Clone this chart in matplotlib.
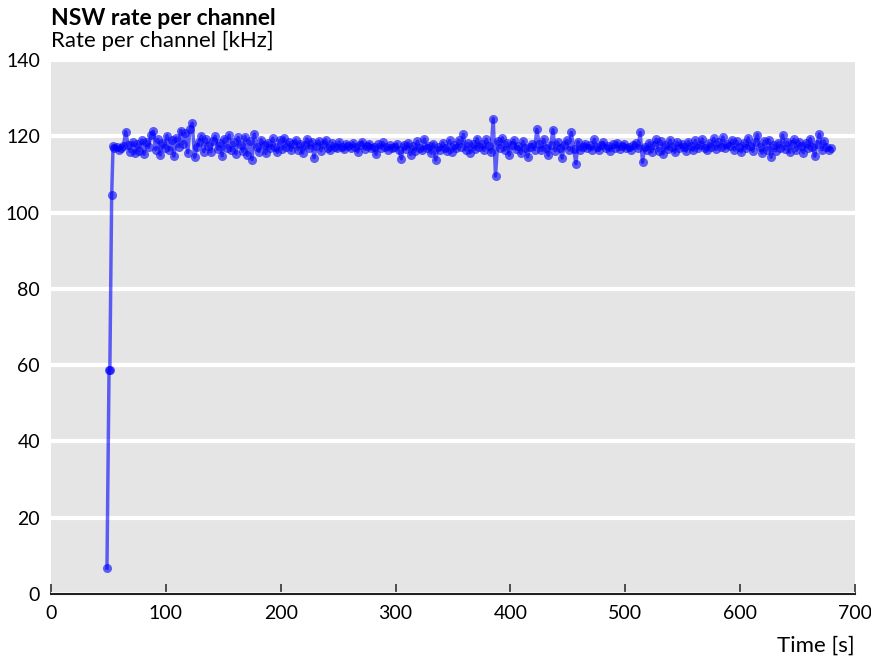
import matplotlib.pyplot as plt

# ramp-up at start of run
ramp_time = [48.7, 50.5, 51.2, 52.8, 54.0]
ramp_rate = [6.8, 58.6, 58.8, 104.6, 117.4]

# steady part, one reading every 2 s from t = 55 s
t_start = 55
t_step = 2
rate = [
    116.8, 117.2, 116.4, 116.9, 117.5, 121.2, 117.8, 116.0, 118.4, 115.6,
    117.9, 116.2, 119.0, 115.3, 118.6, 117.1, 120.4, 121.3, 116.5, 119.2,
    115.1, 118.3, 117.0, 120.2, 116.4, 118.9, 114.8, 119.6, 117.3, 121.5,
    118.1, 120.8, 115.7, 121.8, 123.4, 114.5, 117.2, 118.6, 120.1, 116.0,
    119.3, 117.4, 115.9, 118.8, 120.0, 116.6, 118.2, 114.9, 119.4, 117.0,
    120.3, 116.3, 118.5, 115.4, 119.7, 117.6, 116.1, 119.9, 115.0, 118.7,
    113.9, 120.6, 117.3, 116.0, 119.1, 117.8, 115.5, 118.3, 116.8, 119.5,
    117.1, 115.8, 118.9, 116.7, 119.6, 117.2, 118.4, 116.3, 117.9, 119.0,
    116.5, 118.1, 115.6, 117.7, 119.3, 116.9, 118.6, 114.4, 117.5, 118.8,
    116.2, 117.9, 119.1, 117.0, 116.4, 118.2, 117.3, 116.8, 118.5, 117.1,
    116.6, 118.0, 117.4, 116.9, 118.3, 117.2, 115.9, 117.8, 118.6, 116.7,
    117.5, 118.1, 116.8, 117.3, 115.3, 117.9, 116.9, 118.4, 117.1, 116.5,
    117.6, 116.9, 117.2, 118.0, 116.3, 114.1, 117.8, 116.6, 118.2, 115.2,
    117.4, 116.1, 118.7, 117.0, 116.4, 119.3, 116.8, 117.5, 115.6, 118.1,
    113.8, 117.2, 116.5, 118.3, 117.0, 116.2, 118.9, 115.9, 117.6, 116.8,
    119.0, 117.3, 120.5, 116.4, 118.2, 115.7, 117.9, 116.6, 119.4, 117.1,
    118.0, 116.3, 119.2, 117.5, 115.8, 124.6, 109.6, 118.8, 117.0, 119.6,
    116.4, 118.3, 115.1, 117.8, 119.0, 116.6, 117.4, 115.5, 118.7, 116.9,
    114.6, 117.2, 118.0, 116.5, 121.8, 118.1, 116.3, 119.2, 117.0, 115.0,
    117.6, 121.7, 116.2, 118.5, 116.9, 114.3, 117.8, 118.9, 116.4, 121.0,
    116.7, 112.8, 118.6, 116.4, 117.3, 118.1, 116.9, 117.6, 116.5, 119.2,
    117.1, 116.3, 117.8, 118.4, 116.8, 117.4, 116.2, 117.9, 117.0, 118.3,
    116.6, 117.5, 118.0, 116.9, 117.3, 116.4, 117.7, 118.2, 116.8, 121.0,
    113.2, 117.3, 116.5, 118.3, 115.9, 117.6, 119.2, 116.2, 118.7, 115.4,
    117.8, 116.6, 119.0, 117.3, 115.8, 118.5, 116.9, 118.0, 117.2, 116.1,
    118.6, 117.4, 116.3, 118.9, 116.8, 117.6, 119.3, 117.0, 116.5, 118.2,
    117.1, 119.5, 116.6, 118.4, 117.2, 119.8, 116.9, 118.1, 117.5, 119.0,
    116.4, 118.7, 117.3, 115.9, 118.2, 116.8, 119.6, 117.4, 116.1, 118.5,
    120.4, 117.2, 115.6, 118.8, 116.4, 119.1, 114.5, 117.7, 116.2, 118.3,
    117.0, 120.3, 116.6, 118.5, 115.8, 117.9, 119.2, 116.3, 118.6, 117.4,
    115.7, 118.2, 116.9, 119.4, 117.1, 114.8, 118.0, 120.6, 116.5, 118.8,
    117.2, 116.4, 116.9,
]

time = ramp_time + [t_start + t_step * i for i in range(len(rate))]
values = ramp_rate + rate

plt.rcParams['font.family'] = ['Lato', 'DejaVu Sans']

fig = plt.figure(figsize=(8.71, 6.58), dpi=100)
ax = fig.add_axes([0.0586, 0.0973, 0.9230, 0.8115])
ax.set_facecolor('#e5e5e5')

ax.plot(time, values, color='#0000ff', alpha=0.6, linewidth=2.5,
        marker='o', markersize=6.5, markeredgewidth=0)

ax.set_xlim(0, 700)
ax.set_ylim(0, 140)
ax.set_xticks(range(0, 701, 100))
ax.set_yticks(range(0, 141, 20))
ax.yaxis.grid(True, color='white', linewidth=3)
ax.set_axisbelow(True)

for s in ['top', 'right', 'left']:
    ax.spines[s].set_visible(False)
ax.spines['bottom'].set_linewidth(1.5)
ax.spines['bottom'].set_color('#222222')

ax.tick_params(axis='x', direction='in', length=7, width=1.2, color='#333333',
               labelsize=14, pad=8)
ax.tick_params(axis='y', length=0, labelsize=14, pad=8)

ax.set_xlabel('Time [s]', fontsize=16, loc='right', labelpad=10)

fig.text(0.0586, 0.962, 'NSW rate per channel', fontsize=16.5, fontweight='bold')
fig.text(0.0586, 0.928, 'Rate per channel [kHz]', fontsize=16)

plt.savefig('out.png')
